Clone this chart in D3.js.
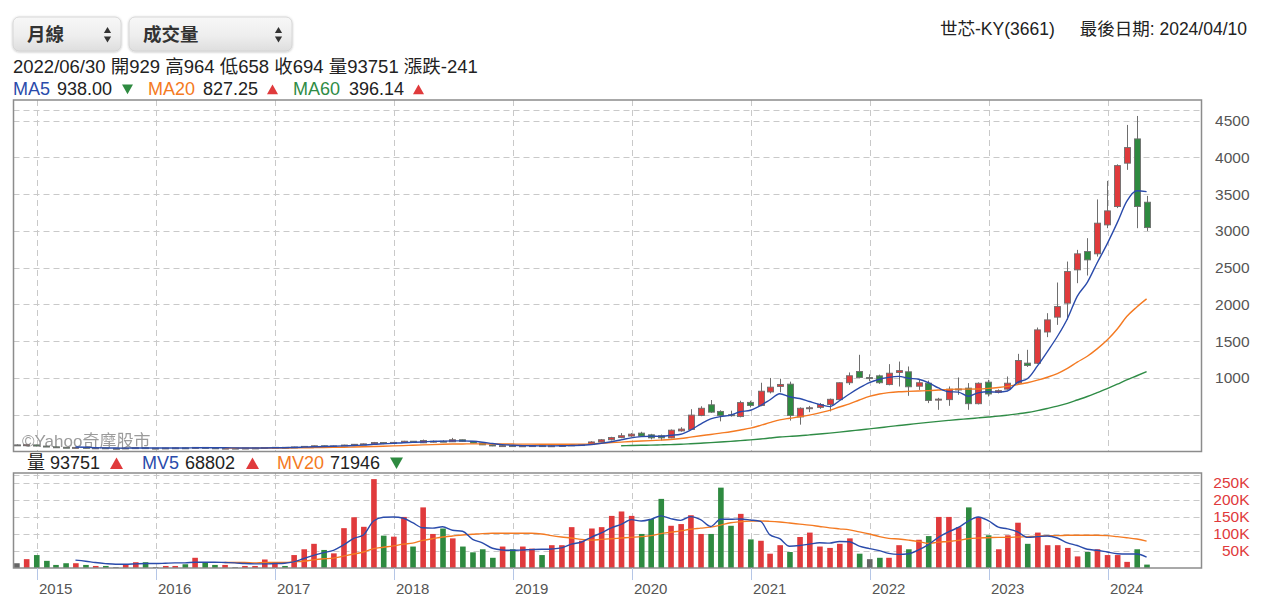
<!DOCTYPE html>
<html lang="zh-Hant">
<head>
<meta charset="utf-8">
<title>世芯-KY(3661) 月線</title>
<script src="https://cdn.jsdelivr.net/npm/d3@7/dist/d3.min.js"></script>
<style>
html,body{margin:0;padding:0;background:#ffffff;}
#chart{display:block;}
</style>
</head>
<body>
<svg id="chart" width="1267" height="607"></svg>
<script>
// ================= DATA (monthly, Oct 2014 .. Apr 2024) =================
const firstMonth = [2014, 9];   // year, 0-based month (Oct 2014)
const monthCount = 115;

const opens = [
  90, 82, 90,
  74, 64, 58, 52, 56, 48, 50, 44, 44, 48, 52, 46,
  46, 48, 50, 46, 56, 50, 45, 46, 46, 47, 48, 54,
  57, 53, 62, 70, 78, 70, 76, 88, 98, 104, 122, 108,
  124, 140, 118, 128, 140, 132, 160, 138, 115, 90, 75, 80,
  72, 78, 80, 74, 78, 82, 90, 94, 130, 160, 190, 210,
  250, 227, 215, 185, 280, 300, 490, 635, 545, 500, 475, 668,
  625, 810, 885, 916, 470, 585, 600, 640, 705, 935, 1088, 1005,
  1029, 910, 1075, 1084, 888, 929, 700, 705, 845, 862, 650, 943,
  805, 848, 930, 1202, 1200, 1625, 1827, 2017, 2470, 2719, 2688, 3082,
  3331, 3921, 4251, 3390
];
const highs = [
  96, 95, 92,
  76, 66, 60, 58, 57, 52, 51, 46, 50, 54, 53, 47,
  49, 51, 51, 60, 58, 51, 48, 47, 48, 50, 56, 60,
  58, 65, 72, 80, 80, 80, 92, 102, 108, 130, 125, 128,
  145, 142, 162, 150, 152, 185, 162, 140, 116, 92, 84, 82,
  80, 84, 81, 82, 86, 95, 100, 140, 170, 200, 250, 250,
  268, 240, 230, 300, 330, 575, 615, 700, 560, 555, 690, 690,
  935, 1000, 990, 950, 600, 620, 660, 720, 940, 1075, 1315, 1050,
  1045, 1188, 1223, 1156, 975, 964, 730, 884, 1006, 930, 940, 975,
  845, 1020, 1328, 1383, 1686, 1881, 2298, 2583, 2742, 2901, 3428, 3680,
  3905, 4441, 4563, 3476
];
const lows = [
  84, 80, 70,
  62, 55, 50, 50, 46, 46, 42, 42, 43, 46, 44, 44,
  45, 47, 45, 45, 48, 44, 43, 45, 44, 46, 47, 52,
  52, 52, 60, 68, 68, 69, 75, 85, 90, 100, 100, 105,
  118, 120, 115, 122, 128, 130, 135, 112, 88, 72, 70, 70,
  70, 75, 72, 72, 76, 80, 86, 92, 125, 150, 180, 200,
  200, 165, 150, 180, 270, 295, 480, 525, 410, 475, 465, 600,
  615, 790, 805, 420, 365, 535, 580, 545, 700, 905, 995, 955,
  920, 900, 884, 757, 838, 658, 567, 621, 771, 567, 640, 748,
  790, 840, 920, 1150, 1190, 1555, 1722, 1790, 2289, 2393, 2651, 3037,
  3310, 3830, 3037, 3000
];
const closes = [
  90, 92, 74,
  64, 58, 52, 56, 48, 50, 44, 44, 48, 52, 46, 46,
  48, 50, 46, 56, 50, 45, 46, 46, 47, 48, 54, 57,
  53, 62, 70, 78, 70, 76, 88, 98, 104, 122, 108, 124,
  140, 126, 150, 140, 132, 160, 138, 115, 90, 75, 80, 72,
  78, 80, 74, 78, 82, 90, 94, 130, 160, 190, 215, 236,
  210, 185, 185, 290, 305, 495, 588, 535, 490, 492, 665, 625,
  820, 875, 912, 490, 588, 595, 640, 710, 935, 1030, 1006, 1005,
  935, 1065, 1100, 880, 935, 694, 712, 848, 850, 650, 928, 782,
  828, 929, 1237, 1170, 1654, 1790, 1971, 2447, 2688, 2606, 3105, 3272,
  3888, 4133, 3331, 3045
];
const volumes = [
  14000, 26000, 38000,
  21000, 9000, 14000, 14000, 9000, 6000, 6000, 2500, 9000, 17000, 17000, 2500,
  6000, 6000, 11000, 30000, 17000, 9000, 9000, 2500, 6000, 6000, 25000, 16000,
  6000, 38000, 55000, 71000, 53000, 43000, 117000, 149000, 121000, 261000, 95000, 92000,
  150000, 63000, 178000, 100000, 116000, 87000, 63000, 46000, 55000, 30000, 63000, 55000,
  63000, 57000, 38000, 67000, 67000, 120000, 80000, 116000, 120000, 153000, 166000, 153000,
  100000, 144000, 203000, 124000, 129000, 155000, 100000, 100000, 236000, 124000, 159000, 84000,
  80000, 42000, 67000, 47000, 91000, 104000, 63000, 59000, 71000, 87000, 42000, 26000,
  30000, 30000, 67000, 55000, 83000, 93751, 150000, 150000, 120000, 178000, 150000, 96000,
  55000, 96000, 133000, 71000, 104000, 67000, 67000, 59000, 34000, 47000, 55000, 38000,
  38000, 18000, 55000, 10000
];

// moving-average lines (first value at the given month index)
const ma5Start = 6;
const ma5 = [
  62, 57, 52, 49, 47, 46, 47, 47, 47,
  48, 48, 48, 50, 51, 51, 50, 49, 47, 47, 48, 50,
  52, 55, 59, 64, 67, 71, 76, 82, 87, 98, 104, 111,
  120, 124, 130, 138, 141, 144, 145, 139, 126, 108, 94, 86,
  80, 78, 77, 77, 78, 81, 84, 95, 112, 133, 158, 186,
  202, 207, 206, 221, 235, 292, 373, 443, 475, 495, 540, 561,
  625, 700, 785, 744, 720, 680, 640, 610, 690, 782, 864, 937,
  982, 1008, 1022, 997, 983, 938.00, 864, 814, 808, 751, 798, 812,
  808, 823, 941, 989, 1164, 1356, 1564, 1806, 2110, 2300, 2563, 2824,
  3112, 3401, 3546, 3534
];
const ma20Start = 21;
const ma20 = [
  46, 46, 46, 46, 47, 47,
  48, 49, 50, 52, 54, 56, 58, 61, 64, 68, 72, 76,
  80, 85, 90, 94, 98, 101, 103, 104, 104, 103, 102, 101,
  100, 100, 99, 99, 99, 99, 100, 104, 112, 120, 128, 136,
  142, 148, 155, 163, 176, 195, 214, 232, 250, 268, 292, 318,
  355, 392, 430, 452, 472, 495, 525, 560, 605, 648, 700, 750,
  782, 800, 812, 818, 823, 827.25, 836, 845, 848, 848, 850, 858,
  870, 885, 910, 935, 970, 1010, 1060, 1130, 1215, 1295, 1395, 1515,
  1665, 1835, 1965, 2075
];
const ma60Start = 61;
const ma60 = [
  78, 81,
  84, 87, 90, 94, 98, 105, 113, 121, 129, 138, 148, 158,
  170, 183, 197, 205, 214, 226, 238, 250, 263, 278, 293, 308,
  323, 338, 353, 367, 382, 396.14, 410, 423, 435, 445, 457, 469,
  481, 495, 512, 530, 556, 585, 617, 655, 700, 748, 800, 855,
  915, 975, 1030, 1085
];
const mv5Start = 6;
const mv5 = [
  23000, 20000, 16000, 13000, 11000, 11000, 12000, 13000, 13000,
  14000, 15000, 15000, 17000, 17000, 17000, 16000, 15000, 13000, 12000, 12000, 13000,
  14000, 18000, 28000, 37000, 45000, 52000, 68000, 87000, 97000, 138000, 149000, 150000,
  146000, 133000, 118000, 117000, 121000, 111000, 108000, 84000, 74000, 58000, 53000, 52000,
  53000, 54000, 55000, 56000, 59000, 70000, 76000, 91000, 103000, 118000, 128000, 142000,
  138000, 143000, 153000, 145000, 140000, 151000, 142000, 122000, 143000, 143000, 144000, 141000,
  137000, 98000, 86000, 64000, 66000, 70000, 74000, 73000, 78000, 77000, 64000, 57000,
  51000, 43000, 40000, 42000, 53000, 68802, 90000, 106000, 119000, 138000, 150000, 139000,
  120000, 115000, 106000, 90000, 92000, 94000, 88000, 74000, 66000, 55000, 52000, 47000,
  42000, 41000, 41000, 32000
];
const mv20Start = 21;
const mv20 = [
  16000, 16000, 16000, 15000, 16000, 16000,
  16000, 18000, 20000, 24000, 27000, 29000, 35000, 41000, 47000, 57000, 61000, 65000,
  70000, 73000, 81000, 86000, 91000, 94000, 97000, 99000, 101000, 102000, 102000, 102000,
  102000, 102000, 100000, 95000, 91000, 88000, 84000, 82000, 84000, 86000, 88000, 90000,
  92000, 95000, 101000, 105000, 109000, 114000, 117000, 120000, 126000, 133000, 136000, 138000,
  138000, 137000, 135000, 132000, 129000, 126000, 122000, 118000, 115000, 112000, 106000, 100000,
  92000, 87000, 85000, 82000, 78000, 71946, 76000, 78000, 81000, 86000, 88000, 89000,
  90000, 90000, 91000, 92000, 93000, 95000, 95000, 96000, 96000, 96000, 96000, 95000,
  92000, 89000, 85000, 79000
];

const yearTicks = [2015, 2016, 2017, 2018, 2019, 2020, 2021, 2022, 2023, 2024];
const priceTicks = [500, 1000, 1500, 2000, 2500, 3000, 3500, 4000, 4500];
const priceTopLine = 4645;
const volumeTicks = [50000, 100000, 150000, 200000, 250000];
const volumeTopLine = 273000;
const hoverIndex = 92;            // 2022/06 (the month shown in the header)
const stockName = "世芯-KY(3661)";
const lastDateText = "最後日期: 2024/04/10";
const periodLabel = "月線";
const indicatorLabel = "成交量";

// ================= DRAWING =================
const FONT = '"Liberation Sans", Arial, "Noto Sans CJK TC", sans-serif';
const C = {up: "#e03a3c", down: "#2e8a40", flat: "#666666", edge: "#6e6e6e",
           ma5: "#2a4bab", ma20: "#f47a22", ma60: "#2f8c46",
           grid: "#c9c9c9", border: "#8c8c8c", text: "#222222", axis: "#555555", vaxis: "#e0393b"};

const svg = d3.select("#chart").attr("font-family", FONT);

const months = d3.timeMonth.range(new Date(firstMonth[0], firstMonth[1], 1),
                                  new Date(firstMonth[0], firstMonth[1] + monthCount, 1));
const dates = months.map(m => d3.timeDay.offset(d3.timeMonth.offset(m, 1), -1));
const bars = dates.map((d, i) => ({date: d, open: opens[i], high: highs[i], low: lows[i], close: closes[i], volume: volumes[i]}));
const colorOf = d => d.close > d.open ? C.up : (d.close < d.open ? C.down : C.flat);

const P = {l: 13.5, r: 1201.5, t: 100, b: 451.5};
const V = {l: 13.5, r: 1201.5, t: 473, b: 568};

const x = d3.scaleTime().domain([new Date(2015, 0, 1), new Date(2024, 0, 1)]).range([36.7, 1107.5]);
const yP = d3.scaleLinear().domain([0, 4780]).range([P.b, P.t]);
const yV = d3.scaleLinear().domain([0, 279000]).range([V.b, V.t]);
const px = v => Math.round(v) + 0.5;

const defs = svg.append("defs");
defs.append("clipPath").attr("id", "clipP").append("rect").attr("x", P.l).attr("y", P.t).attr("width", P.r - P.l).attr("height", P.b - P.t);
defs.append("clipPath").attr("id", "clipV").append("rect").attr("x", V.l).attr("y", V.t).attr("width", V.r - V.l).attr("height", V.b - V.t);
const grad = defs.append("linearGradient").attr("id", "selGrad").attr("x1", 0).attr("y1", 0).attr("x2", 0).attr("y2", 1);
grad.append("stop").attr("offset", "0%").attr("stop-color", "#f7f7f7");
grad.append("stop").attr("offset", "55%").attr("stop-color", "#eeeeee");
grad.append("stop").attr("offset", "100%").attr("stop-color", "#dedede");
const shadow = defs.append("filter").attr("id", "selShadow").attr("x", "-10%").attr("y", "-20%").attr("width", "120%").attr("height", "140%");
shadow.append("feDropShadow").attr("dx", 0).attr("dy", 0.6).attr("stdDeviation", 1.1).attr("flood-color", "#000").attr("flood-opacity", 0.28);

// ---- select boxes ----
function selectBox(x0, w, label) {
  const g = svg.append("g");
  g.append("rect").attr("x", x0).attr("y", 17).attr("width", w).attr("height", 34).attr("rx", 6)
    .attr("fill", "url(#selGrad)").attr("stroke", "#d0d0d0").attr("stroke-width", 0.8).attr("filter", "url(#selShadow)");
  g.append("text").attr("x", x0 + 14).attr("y", 41).attr("font-size", 18.5).attr("font-weight", "bold")
    .attr("fill", "#333").text(label);
  const ax = x0 + w - 13.5;
  g.append("path").attr("d", `M${ax - 3.6},33 L${ax + 3.6},33 L${ax},27 Z`).attr("fill", "#333");
  g.append("path").attr("d", `M${ax - 3.6},36.5 L${ax + 3.6},36.5 L${ax},42.5 Z`).attr("fill", "#333");
}
selectBox(13, 108, periodLabel);
selectBox(129, 163, indicatorLabel);

svg.append("text").attr("x", 940).attr("y", 35).attr("font-size", 17.5).attr("fill", C.text).text(stockName);
svg.append("text").attr("x", 1247).attr("y", 35).attr("font-size", 17.5).attr("fill", C.text).attr("text-anchor", "end").text(lastDateText);

// ---- header info for the hovered month ----
const hb = bars[hoverIndex];
const change = closes[hoverIndex] - closes[hoverIndex - 1];
svg.append("text").attr("x", 13).attr("y", 72.5).attr("font-size", 18.5).attr("fill", C.text)
  .text(`${d3.timeFormat("%Y/%m/%d")(hb.date)} 開${hb.open} 高${hb.high} 低${hb.low} 收${hb.close} 量${hb.volume} 漲跌${change}`);

function triangle(cx, top, w, h, up) {
  const d = up ? `M${cx - w / 2},${top + h} L${cx + w / 2},${top + h} L${cx},${top} Z`
               : `M${cx - w / 2},${top} L${cx + w / 2},${top} L${cx},${top + h} Z`;
  svg.append("path").attr("d", d).attr("fill", up ? C.up : C.down);
}
function legendItem(xName, xVal, xTri, y, name, color, value, prev, fmt, triTop, triH, triW) {
  if (name) svg.append("text").attr("x", xName).attr("y", y).attr("font-size", 18).attr("fill", color).text(name);
  svg.append("text").attr("x", xVal).attr("y", y).attr("font-size", 18).attr("fill", C.text).text(fmt(value));
  triangle(xTri, triTop, triW, triH, value >= prev);
}
const f2 = d3.format(".2f");
const f0 = d3.format("d");
legendItem(13, 57, 127.5, 95, "MA5", C.ma5, ma5[hoverIndex - ma5Start], ma5[hoverIndex - ma5Start - 1], f2, 84.5, 9.8, 11);
legendItem(148, 203, 272.5, 95, "MA20", C.ma20, ma20[hoverIndex - ma20Start], ma20[hoverIndex - ma20Start - 1], f2, 84.5, 9.8, 11);
legendItem(293, 349, 418.5, 95, "MA60", C.ma60, ma60[hoverIndex - ma60Start], ma60[hoverIndex - ma60Start - 1], f2, 84.5, 9.8, 11);

svg.append("text").attr("x", 27).attr("y", 469).attr("font-size", 18).attr("fill", C.text).text("量");
legendItem(0, 50, 116.5, 469, null, null, volumes[hoverIndex], volumes[hoverIndex - 1], f0, 457.5, 11.5, 13);
legendItem(142, 185, 252.5, 469, "MV5", C.ma5, mv5[hoverIndex - mv5Start], mv5[hoverIndex - mv5Start - 1], f0, 457.5, 11.5, 13);
legendItem(277, 330, 396.5, 469, "MV20", C.ma20, mv20[hoverIndex - mv20Start], mv20[hoverIndex - mv20Start - 1], f0, 457.5, 11.5, 13);

// ---- grid ----
const yearDates = yearTicks.map(y => new Date(y, 0, 1));
const grid = svg.append("g").attr("stroke", C.grid).attr("stroke-width", 1).attr("stroke-dasharray", "6,4").attr("fill", "none");
grid.selectAll(null).data(priceTicks.concat([priceTopLine])).join("line")
  .attr("x1", P.l).attr("x2", P.r).attr("y1", d => px(yP(d))).attr("y2", d => px(yP(d)));
grid.selectAll(null).data(volumeTicks.concat([volumeTopLine])).join("line")
  .attr("x1", V.l).attr("x2", V.r).attr("y1", d => px(yV(d))).attr("y2", d => px(yV(d)));
grid.selectAll(null).data(yearDates).join("line")
  .attr("x1", d => px(x(d))).attr("x2", d => px(x(d))).attr("y1", P.t).attr("y2", P.b);
grid.selectAll(null).data(yearDates).join("line")
  .attr("x1", d => px(x(d))).attr("x2", d => px(x(d))).attr("y1", V.t).attr("y2", V.b);

// watermark
svg.append("text").attr("x", 22).attr("y", 446.5).attr("font-size", 17).attr("fill", "#8a8a8a").attr("opacity", 0.85).text("©Yahoo奇摩股市");

// ---- candles ----
const cg = svg.append("g").attr("clip-path", "url(#clipP)");
cg.selectAll(null).data(bars).join("line")
  .attr("x1", d => px(x(d.date))).attr("x2", d => px(x(d.date)))
  .attr("y1", d => yP(d.high)).attr("y2", d => yP(d.low))
  .attr("stroke", C.edge).attr("stroke-width", 1);
cg.selectAll(null).data(bars).join("rect")
  .attr("x", d => px(x(d.date)) - 3).attr("width", 6)
  .attr("y", d => yP(Math.max(d.open, d.close)))
  .attr("height", d => Math.max(1, Math.abs(yP(d.open) - yP(d.close))))
  .attr("fill", colorOf).attr("stroke", C.edge).attr("stroke-width", 0.9);

// MA lines
function maPath(arr, start, yScale) {
  return d3.line().x((v, k) => x(dates[start + k])).y(v => yScale(v)).curve(d3.curveMonotoneX)(arr);
}
const lg = svg.append("g").attr("clip-path", "url(#clipP)").attr("fill", "none").attr("stroke-width", 1.4);
lg.append("path").attr("d", maPath(ma60, ma60Start, yP)).attr("stroke", C.ma60);
lg.append("path").attr("d", maPath(ma20, ma20Start, yP)).attr("stroke", C.ma20);
lg.append("path").attr("d", maPath(ma5, ma5Start, yP)).attr("stroke", C.ma5);

// ---- volume ----
const vg = svg.append("g").attr("clip-path", "url(#clipV)");
vg.selectAll(null).data(bars).join("rect")
  .attr("x", d => x(d.date) - 2.4).attr("width", 5.6)
  .attr("y", d => yV(d.volume)).attr("height", d => V.b - yV(d.volume))
  .attr("fill", colorOf);
const vl = svg.append("g").attr("clip-path", "url(#clipV)").attr("fill", "none").attr("stroke-width", 1.4);
vl.append("path").attr("d", maPath(mv20, mv20Start, yV)).attr("stroke", C.ma20);
vl.append("path").attr("d", maPath(mv5, mv5Start, yV)).attr("stroke", C.ma5);

// ---- panel borders ----
svg.append("rect").attr("x", P.l).attr("y", P.t).attr("width", P.r - P.l).attr("height", P.b - P.t)
  .attr("fill", "none").attr("stroke", C.border).attr("stroke-width", 1.5);
svg.append("rect").attr("x", V.l).attr("y", V.t).attr("width", V.r - V.l).attr("height", V.b - V.t)
  .attr("fill", "none").attr("stroke", C.border).attr("stroke-width", 1.5);

// ---- axes ----
const pAxis = d3.axisLeft(yP).tickValues(priceTicks).tickSize(0).tickPadding(0)
  .tickFormat(d => d >= 1000 ? String(d) : "");
svg.append("g").attr("transform", "translate(1249.5,0)").call(pAxis)
  .call(g => g.select(".domain").remove())
  .attr("font-family", FONT).attr("font-size", 15.5)
  .selectAll("text").attr("fill", C.axis);

const vAxis = d3.axisLeft(yV).tickValues(volumeTicks).tickSize(0).tickPadding(0)
  .tickFormat(d => (d / 1000) + "K");
svg.append("g").attr("transform", "translate(1249.5,0)").call(vAxis)
  .call(g => g.select(".domain").remove())
  .attr("font-family", FONT).attr("font-size", 15.5)
  .selectAll("text").attr("fill", C.vaxis);

const xAxis = d3.axisBottom(x).tickValues(yearDates).tickFormat(d3.timeFormat("%Y")).tickSize(12).tickPadding(0);
const xg = svg.append("g").attr("transform", `translate(0,${V.b})`).call(xAxis)
  .call(g => g.select(".domain").remove())
  .attr("font-family", FONT).attr("font-size", 15);
xg.selectAll(".tick").attr("transform", d => `translate(${px(x(d))},0)`);
xg.selectAll(".tick line").attr("stroke", "#b5c6e6").attr("stroke-width", 1);
xg.selectAll(".tick text").attr("fill", C.axis).attr("text-anchor", "start").attr("x", 1.5).attr("y", 26).attr("dy", 0);
</script>
</body>
</html>
